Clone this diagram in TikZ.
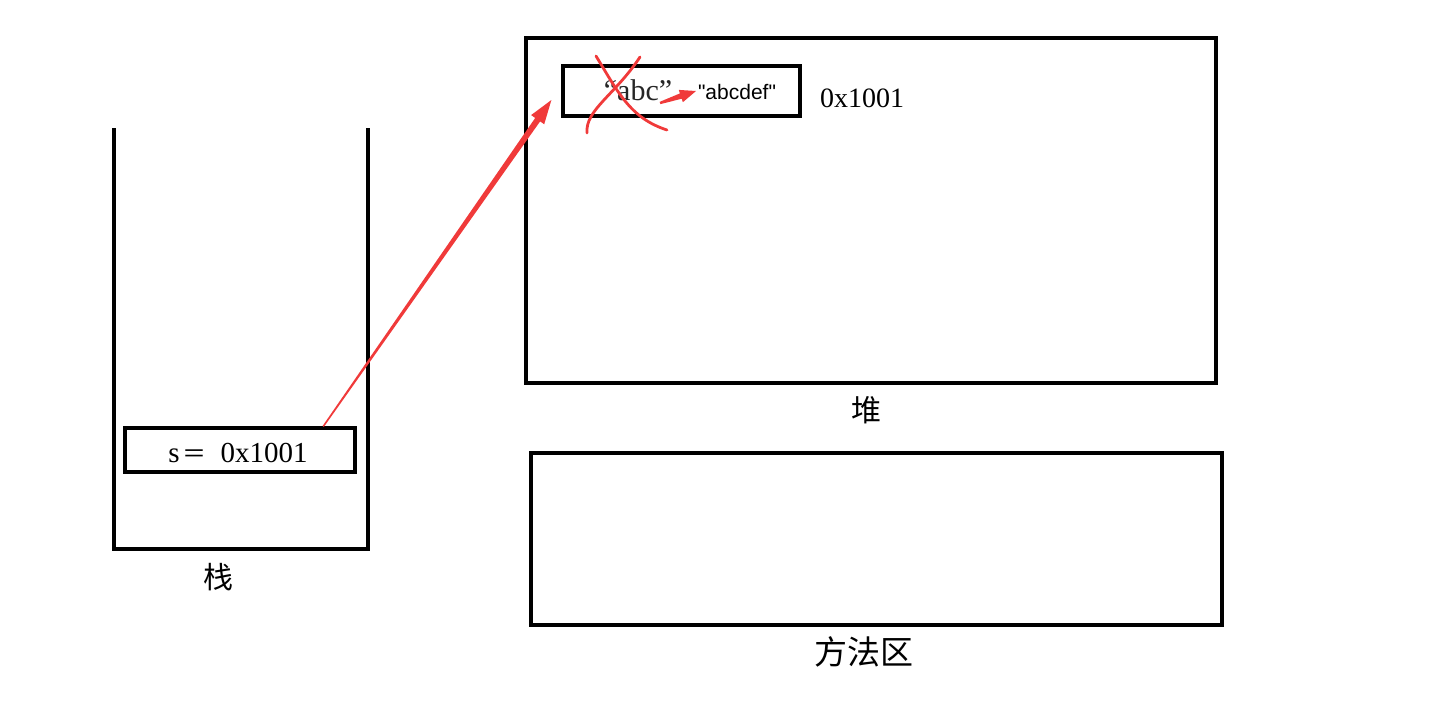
\documentclass[tikz,border=0pt]{standalone}
\usepackage{fontspec}
\setmainfont{Liberation Serif}
\newfontfamily\cjk{Noto Sans CJK SC}
\newfontfamily\arialf{Liberation Sans}
\usetikzlibrary{calc}
\definecolor{pen}{RGB}{240,58,58}
\tikzset{
  box/.style={draw=black,line width=3.2pt,inner sep=0pt},
  lbl/.style={inner sep=0pt,font=\cjk\fontsize{30}{30}\selectfont},
  redline/.style={draw=pen,line width=2.8pt,line cap=round},
}
\begin{document}
\begin{tikzpicture}[x=1pt,y=-1pt]
\useasboundingbox (0,0) rectangle (1452,716);
% stack
\coordinate (stl) at (114,128);
\coordinate (str) at (368,128);
\draw[line width=3.2pt] (stl) -- (114,549) -- (368,549) -- (str);
\node[box,minimum width=230pt,minimum height=44pt] (sbox) at (240,450) {};
\node[inner sep=0pt,font=\fontsize{29}{29}\selectfont] (stext) at (238,453) {s\hspace{3pt}{\cjk\fontsize{24}{24}\selectfont ＝}\hspace{14pt}0x1001};
\node[lbl] (zhan) at (218,577) {栈};
% heap
\node[box,minimum width=690pt,minimum height=345pt] (heap) at (871,210.5) {};
\node[lbl] (dui) at (866,410) {堆};
% method area
\node[box,minimum width=691pt,minimum height=172pt] (method) at (876.5,539) {};
\node[lbl,font=\cjk\fontsize{33}{33}\selectfont] (ff) at (864,652) {方法区};
% string box
\node[box,minimum width=237pt,minimum height=50pt] (sb) at (681.5,91) {};
\node[inner sep=0pt,font=\fontsize{30}{30}\selectfont,text=black!85] (abc) at (638,90) {“abc”};
\node[inner sep=0pt,font=\arialf\fontsize{21}{21}\selectfont] (abcdef) at (737,92) {"abcdef"};
\node[inner sep=0pt,font=\fontsize{28}{28}\selectfont] (addr) at (862,98) {0x1001};
% red cross
\draw[redline] (596,56) .. controls (618,92) and (630,118) .. (667,130);
\draw[redline] (640,57) .. controls (615,95) and (585,110) .. (587,133);
% big red arrow
\coordinate (s) at ($(sbox.north west)!0.857!(sbox.north east)$);
\coordinate (h) at ($(sb.west)+(-10,9)$);
\coordinate (b) at ($(h)!24pt!(s)$);
\fill[pen] ($(s)!0.8pt!90:(h)$) -- ($(b)!3pt!-90:(s)$) -- ($(b)!8pt!-90:(s)$) -- (h)
  -- ($(b)!8pt!90:(s)$) -- ($(b)!3pt!90:(s)$) -- ($(s)!0.8pt!-90:(h)$) -- cycle;
% small red arrow
\coordinate (s2) at (660,103);
\coordinate (h2) at (696,91);
\coordinate (b2) at ($(h2)!16pt!(s2)$);
\fill[pen] ($(s2)!1.2pt!90:(h2)$) -- ($(b2)!2.8pt!-90:(s2)$) -- ($(b2)!6.5pt!-90:(s2)$) -- (h2)
  -- ($(b2)!6.5pt!90:(s2)$) -- ($(b2)!2.8pt!90:(s2)$) -- ($(s2)!1.2pt!-90:(h2)$) -- cycle;
\end{tikzpicture}
\end{document}
